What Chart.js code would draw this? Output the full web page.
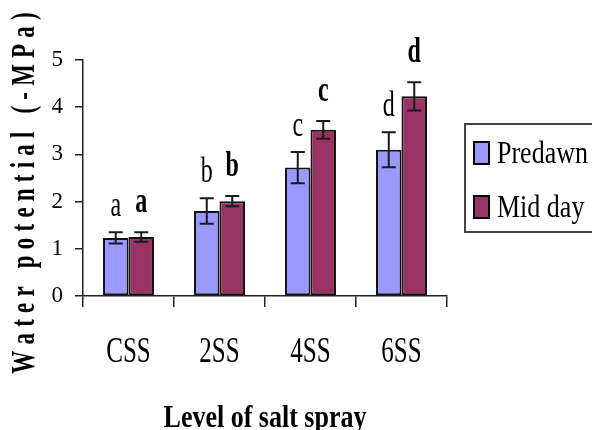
<!DOCTYPE html>
<html>
<head>
<meta charset="utf-8">
<script src="https://cdn.jsdelivr.net/npm/chart.js@4.4.1/dist/chart.umd.min.js"></script>
<style>
  html, body { margin: 0; padding: 0; background: #fff; }
  canvas { display: block; }
</style>
</head>
<body>
<canvas id="c" width="592" height="430"></canvas>
<script>
// Leaf water potential under salt spray levels
const levels = ['CSS', '2SS', '4SS', '6SS'];
const predawn = [1.23, 1.80, 2.72, 3.10];
const predawnErr = [0.12, 0.27, 0.33, 0.37];
const midday = [1.25, 2.01, 3.52, 4.23];
const middayErr = [0.10, 0.11, 0.19, 0.30];
const predawnLetters = ['a', 'b', 'c', 'd'];
const middayLetters = ['a', 'b', 'c', 'd'];
const seriesNames = ['Predawn', 'Mid day'];
const yAxisTitle = 'Water potential (-MPa)';
const xAxisTitle = 'Level of salt spray';

const SERIF = '"Liberation Serif", "Times New Roman", serif';
const PREDAWN_COLOR = '#9999FF';
const MIDDAY_COLOR = '#993366';

// text drawn taller than wide, like a condensed serif
function tallText(ctx, text, x, y, font, stretch, align, baseline, rotate) {
  ctx.save();
  ctx.translate(x, y);
  if (rotate) ctx.rotate(rotate);
  ctx.scale(1, stretch);
  ctx.font = font;
  ctx.textAlign = align || 'center';
  ctx.textBaseline = baseline || 'alphabetic';
  ctx.fillStyle = '#000';
  ctx.fillText(text, 0, 0);
  ctx.restore();
}

// spaced-out text drawn one glyph at a time
function spacedText(ctx, text, cx, cy, font, stretch, spacing, rotate) {
  ctx.save();
  ctx.translate(cx, cy);
  ctx.rotate(rotate);
  ctx.scale(1, stretch);
  ctx.font = font;
  ctx.textBaseline = 'middle';
  ctx.textAlign = 'left';
  ctx.fillStyle = '#000';
  const widths = [...text].map(ch => ctx.measureText(ch).width);
  const total = widths.reduce((a, b) => a + b, 0) + spacing * (text.length - 1);
  let x = -total / 2;
  [...text].forEach((ch, i) => {
    ctx.fillText(ch, x, 0);
    x += widths[i] + spacing;
  });
  ctx.restore();
}

const errorBars = {
  id: 'errorBars',
  afterDatasetsDraw(chart) {
    const ctx = chart.ctx;
    const y = chart.scales.y;
    const errs = [predawnErr, middayErr];
    const letters = [predawnLetters, middayLetters];
    chart.data.datasets.forEach((ds, di) => {
      const meta = chart.getDatasetMeta(di);
      meta.data.forEach((bar, i) => {
        const v = ds.data[i];
        const e = errs[di][i];
        const top = y.getPixelForValue(v + e);
        const bot = y.getPixelForValue(v - e);
        ctx.save();
        ctx.strokeStyle = '#1a1a1a';
        ctx.lineWidth = 2;
        ctx.beginPath();
        ctx.moveTo(bar.x, top); ctx.lineTo(bar.x, bot);
        ctx.moveTo(bar.x - 7, top); ctx.lineTo(bar.x + 7, top);
        ctx.moveTo(bar.x - 7, bot); ctx.lineTo(bar.x + 7, bot);
        ctx.stroke();
        ctx.restore();
        const bold = di === 1;
        const font = (bold ? 'bold ' : '') + '24px ' + SERIF;
        tallText(ctx, letters[di][i], bar.x, top - (bold ? 20 : 16), font, 1.45, 'center', 'alphabetic');
      });
    });
  }
};

const labelsAndLegend = {
  id: 'labelsAndLegend',
  afterDraw(chart) {
    const ctx = chart.ctx;
    const xs = chart.scales.x;
    // category names under the axis
    levels.forEach((lab, i) => {
      tallText(ctx, lab, xs.getPixelForValue(i), 362, '25px ' + SERIF, 1.4, 'center', 'alphabetic');
    });
    // axis titles
    tallText(ctx, xAxisTitle, (chart.chartArea.left + chart.chartArea.right) / 2, 427,
      'bold 26px ' + SERIF, 1.25, 'center', 'alphabetic');
    spacedText(ctx, yAxisTitle, 25, 193, 'bold 23px ' + SERIF, 1.45, 6.2, -Math.PI / 2);

    // legend box
    ctx.save();
    ctx.strokeStyle = '#444';
    ctx.lineWidth = 2;
    ctx.strokeRect(465, 124, 140, 108);
    const colors = [PREDAWN_COLOR, MIDDAY_COLOR];
    const rows = [142, 196];
    seriesNames.forEach((name, i) => {
      ctx.fillStyle = colors[i];
      ctx.fillRect(474, rows[i], 15, 22);
      ctx.strokeStyle = '#000';
      ctx.lineWidth = 2;
      ctx.strokeRect(474, rows[i], 15, 22);
      tallText(ctx, name, 497, rows[i] + 21, '26px ' + SERIF, 1.22, 'left', 'alphabetic');
    });
    ctx.restore();
  }
};

new Chart(document.getElementById('c'), {
  type: 'bar',
  data: {
    labels: levels,
    datasets: [
      { label: seriesNames[0], data: predawn, backgroundColor: PREDAWN_COLOR,
        borderColor: '#111', borderWidth: 2, borderSkipped: false },
      { label: seriesNames[1], data: midday, backgroundColor: MIDDAY_COLOR,
        borderColor: '#111', borderWidth: 2, borderSkipped: false }
    ]
  },
  options: {
    responsive: false,
    animation: false,
    events: [],
    layout: { padding: { top: 60, right: 145, left: 0, bottom: 0 } },
    datasets: { bar: { categoryPercentage: 0.56, barPercentage: 1.0 } },
    plugins: { legend: { display: false }, tooltip: { enabled: false } },
    scales: {
      x: {
        offset: true,
        grid: { display: true, drawOnChartArea: false, drawTicks: true, tickLength: 11, color: '#222', lineWidth: 1.5, offset: true },
        border: { display: true, color: '#222', width: 1.5 },
        ticks: { display: false },
        afterFit(s) { s.height = 134; }
      },
      y: {
        min: 0, max: 5,
        grid: { display: true, drawOnChartArea: false, drawTicks: true, tickLength: 8, color: '#222', lineWidth: 1.5 },
        border: { display: true, color: '#222', width: 1.5 },
        ticks: { stepSize: 1, padding: 12, color: '#000', font: { family: SERIF, size: 23 } },
        afterFit(s) { s.width = 83; }
      }
    }
  },
  plugins: [errorBars, labelsAndLegend]
});
</script>
</body>
</html>
